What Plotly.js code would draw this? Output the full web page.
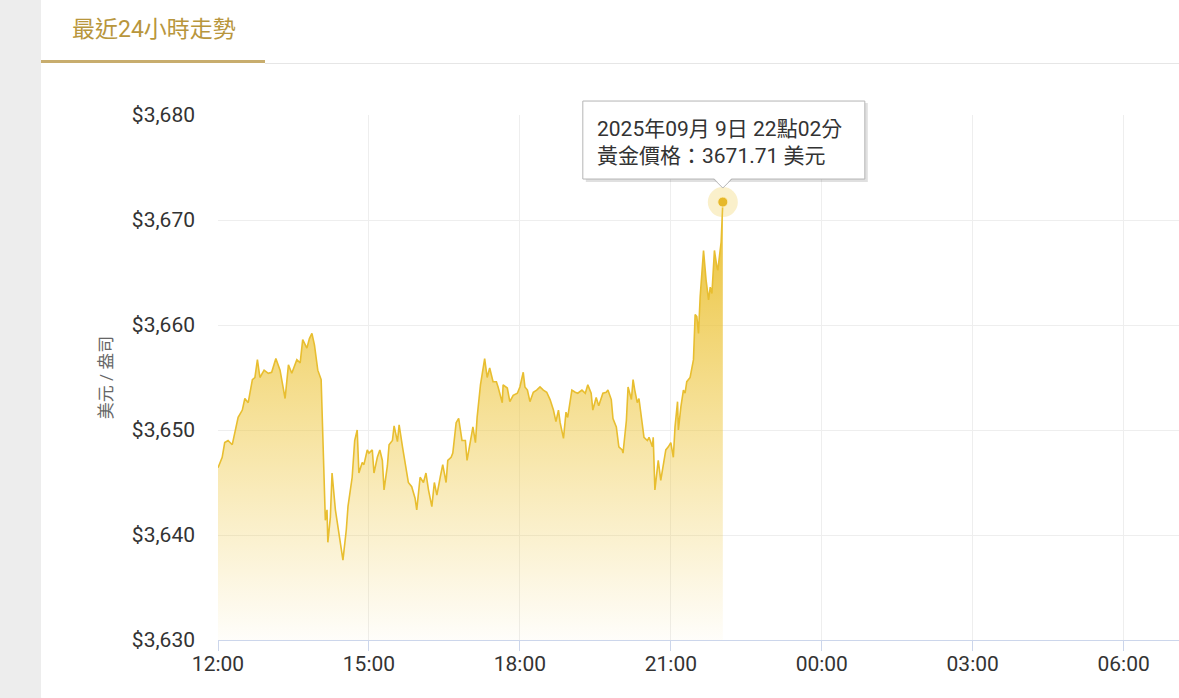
<!DOCTYPE html>
<html>
<head>
<meta charset="utf-8">
<script src="https://cdn.plot.ly/plotly-3.0.1.min.js"></script>
<style>
html,body{margin:0;padding:0;width:1179px;height:698px;overflow:hidden;background:#ededed;font-family:Roboto,"Noto Sans CJK TC",sans-serif;}
#card{position:absolute;left:41px;top:-12px;width:1160px;height:720px;background:#fff;border-radius:12px;}
#tab{position:absolute;left:72px;top:10px;font-size:23px;color:#b8963c;font-family:Roboto,"Noto Sans CJK TC",sans-serif;white-space:nowrap;}
#uline{position:absolute;left:41px;top:60px;width:224px;height:3px;background:#c8ad6e;}
#hline{position:absolute;left:265px;top:63px;width:914px;height:1px;background:#e6e6e6;}
#chart{position:absolute;left:0;top:0;width:1179px;height:698px;}
</style>
</head>
<body>
<div id="card"></div>
<div id="tab">最近24小時走勢</div>
<div id="uline"></div>
<div id="hline"></div>
<div id="chart"></div>
<script>
const dateStr = "2025-09-09";
const times = ["12:00","12:05","12:08","12:12","12:17","12:20","12:24","12:29","12:32","12:36","12:41","12:44","12:47","12:50","12:55",
"13:00","13:04","13:09","13:14","13:16","13:20","13:24","13:26","13:28","13:34","13:38","13:41","13:46","13:49","13:52","13:55","13:58","13:59",
"14:03","14:05","14:08","14:10","14:11","14:14","14:16","14:20","14:23","14:26","14:28","14:29","14:33","14:35","14:40","14:43","14:46","14:48","14:52","14:54","14:58",
"15:00","15:04","15:06","15:10","15:13","15:16","15:18","15:22","15:24","15:28","15:30","15:34","15:36","15:40","15:43","15:47","15:51","15:55","15:57",
"16:01","16:05","16:08","16:11","16:15","16:18","16:21","16:25","16:28","16:32","16:34","16:38","16:40","16:44","16:47","16:51","16:55","16:57",
"17:01","17:04","17:07","17:09","17:13","17:16","17:18","17:21","17:24","17:28","17:32","17:34","17:39","17:40","17:45","17:48","17:52","17:57",
"18:00","18:04","18:06","18:09","18:12","18:16","18:20","18:24","18:28","18:32","18:36","18:40","18:43","18:46","18:48","18:52","18:55","18:57",
"19:02","19:06","19:09","19:14","19:18","19:21","19:25","19:27","19:31","19:34","19:39","19:43","19:45","19:49","19:51","19:55","19:58",
"20:02","20:03","20:07","20:09","20:13","20:15","20:17","20:20","20:22","20:26","20:28","20:32","20:34","20:38","20:39","20:41","20:45","20:48","20:51","20:54","20:57",
"21:00","21:03","21:05","21:08","21:09","21:12","21:15","21:17","21:19","21:23","21:25","21:27","21:29","21:31","21:33","21:35","21:39","21:42","21:45","21:47","21:49","21:52","21:55","21:56",
"22:00","22:02"];
const prices = [3646.4,3647.4,3648.8,3649.0,3648.6,3649.7,3651.2,3651.9,3653.0,3652.6,3654.8,3655.0,3656.7,3655.0,3655.7,
3655.4,3655.5,3656.8,3655.7,3654.8,3653.0,3656.2,3655.7,3655.4,3656.7,3656.4,3658.6,3657.8,3658.7,3659.2,3658.1,3656.0,3655.7,
3654.8,3650.0,3641.4,3642.4,3639.3,3641.7,3645.9,3642.4,3640.8,3639.5,3638.3,3637.6,3640.5,3642.7,3645.5,3649.0,3650.0,3645.9,3646.9,3646.7,3648.1,
3647.8,3648.1,3645.9,3647.4,3648.1,3647.1,3644.3,3646.6,3648.6,3649.0,3650.4,3648.9,3650.5,3648.4,3646.9,3645.0,3644.6,3643.5,3642.4,
3645.5,3645.0,3645.9,3644.3,3642.7,3645.0,3643.8,3645.5,3646.7,3645.0,3647.1,3647.4,3647.8,3650.7,3651.1,3649.0,3649.0,3647.1,
3649.2,3650.3,3648.8,3651.2,3654.3,3655.7,3656.8,3655.0,3655.9,3654.6,3654.6,3654.1,3652.6,3654.3,3654.0,3652.7,3653.3,3653.5,
3654.1,3655.5,3654.1,3653.8,3652.7,3653.6,3653.8,3654.1,3653.8,3653.6,3652.9,3651.9,3650.8,3651.9,3650.7,3649.2,3651.7,3651.2,
3653.8,3653.6,3653.5,3653.8,3653.5,3654.3,3653.5,3651.9,3653.1,3652.3,3653.5,3653.6,3653.8,3652.9,3651.1,3650.3,3648.4,
3648.1,3647.8,3650.9,3654.1,3652.9,3654.8,3653.8,3652.6,3653.0,3650.3,3649.3,3649.0,3649.3,3648.4,3649.3,3644.3,3647.1,3645.2,3646.5,3648.1,3648.4,
3648.8,3647.4,3650.3,3652.7,3650.0,3652.2,3653.8,3653.5,3654.6,3655.0,3655.7,3656.7,3661.0,3660.8,3659.2,3662.7,3667.1,3664.3,3662.4,3663.6,3663.0,3667.1,3665.5,3665.2,
3667.9,3671.71];
const xTickLabels = ["12:00","15:00","18:00","21:00","00:00","03:00","06:00"];
const tooltipDate = "2025年09月 9日 22點02分";
const tooltipLabel = "黃金價格";
const unitLabel = "美元";
const yTitle = "美元 / 盎司";
const yMin = 3630, yMax = 3680;

const xs = times.map(t => dateStr + " " + t);
const lastX = xs[xs.length - 1];
const lastY = prices[prices.length - 1];
const lastYPaper = (lastY - yMin) / (yMax - yMin);
const gold = "#e8be30";

const traces = [
  {
    x: xs, y: prices, type: "scatter", mode: "lines",
    line: {color: gold, width: 1.6},
    fill: "tozeroy",
    fillgradient: {type: "vertical", start: yMin, stop: 3668,
      colorscale: [[0, "rgba(238,200,70,0.03)"], [0.5, "rgba(238,198,60,0.47)"], [1, "rgba(234,192,50,0.9)"]]},
    hoverinfo: "skip"
  },
  {
    x: [lastX], y: [lastY], type: "scatter", mode: "markers",
    marker: {size: 30, color: "rgba(238,200,70,0.28)"}, hoverinfo: "skip", cliponaxis: false
  },
  {
    x: [lastX], y: [lastY], type: "scatter", mode: "markers",
    marker: {size: 10, color: "#e6b82a", line: {color: "rgba(255,240,190,0.9)", width: 1}}, hoverinfo: "skip", cliponaxis: false
  }
];

const tipBase = {xref: "x", yref: "paper", xsizemode: "pixel", ysizemode: "pixel", xanchor: lastX, yanchor: lastYPaper, layer: "above"};
const shapes = [
  Object.assign({type: "rect", x0: -137, x1: 145, y0: 20, y1: 99, fillcolor: "rgba(0,0,0,0.12)", line: {width: 0}}, tipBase),
  Object.assign({type: "rect", x0: -140, x1: 142, y0: 23, y1: 101, fillcolor: "#ffffff", line: {color: "#b5b5b5", width: 1}}, tipBase),
  Object.assign({type: "path", path: "M -9 24 L 0 15 L 9 24 Z", fillcolor: "#ffffff", line: {width: 0}}, tipBase),
  Object.assign({type: "path", path: "M -9 23 L 0 14 L 9 23", fillcolor: "rgba(0,0,0,0)", line: {color: "#b5b5b5", width: 1}}, tipBase)
];

const layout = {
  width: 1179, height: 698,
  margin: {l: 218, r: 0, t: 115, b: 58},
  paper_bgcolor: "rgba(0,0,0,0)", plot_bgcolor: "rgba(0,0,0,0)",
  showlegend: false, hovermode: false,
  font: {family: "Roboto, 'Noto Sans CJK TC', sans-serif", color: "#333"},
  xaxis: {
    type: "date", range: [dateStr + " 12:00", "2025-09-10 07:06"],
    tickmode: "array",
    tickvals: xTickLabels.map((t, i) => (i < 4 ? dateStr : "2025-09-10") + " " + t),
    ticktext: xTickLabels,
    ticks: "outside", ticklen: 10, tickcolor: "#ccd6eb", tickwidth: 1,
    ticklabelstandoff: -5,
    showline: true, linecolor: "#ccd6eb", linewidth: 1,
    showgrid: true, gridcolor: "#eeeeee", gridwidth: 1,
    tickfont: {size: 21, color: "#333"}, zeroline: false, fixedrange: true
  },
  yaxis: {
    range: [yMin, yMax], dtick: 10, tick0: yMin,
    tickprefix: "$", tickformat: ",d",
    showgrid: true, gridcolor: "#eeeeee", gridwidth: 1, zeroline: false,
    showline: false, ticks: "", ticklabelstandoff: 22,
    tickfont: {size: 21, color: "#333"},
    title: {text: yTitle, font: {size: 17, color: "#666"}, standoff: 14},
    fixedrange: true
  },
  shapes: shapes,
  annotations: [{
    x: lastX, y: lastY, xref: "x", yref: "y",
    text: tooltipDate + "<br>" + tooltipLabel + "：" + lastY.toFixed(2) + " " + unitLabel,
    showarrow: false, xanchor: "left", yanchor: "middle", align: "left",
    xshift: -128, yshift: 60,
    font: {size: 21, color: "#333", family: "Roboto, 'Noto Sans CJK TC', sans-serif"}
  }]
};

Plotly.newPlot("chart", traces, layout, {displayModeBar: false, staticPlot: true});
</script>
</body>
</html>
